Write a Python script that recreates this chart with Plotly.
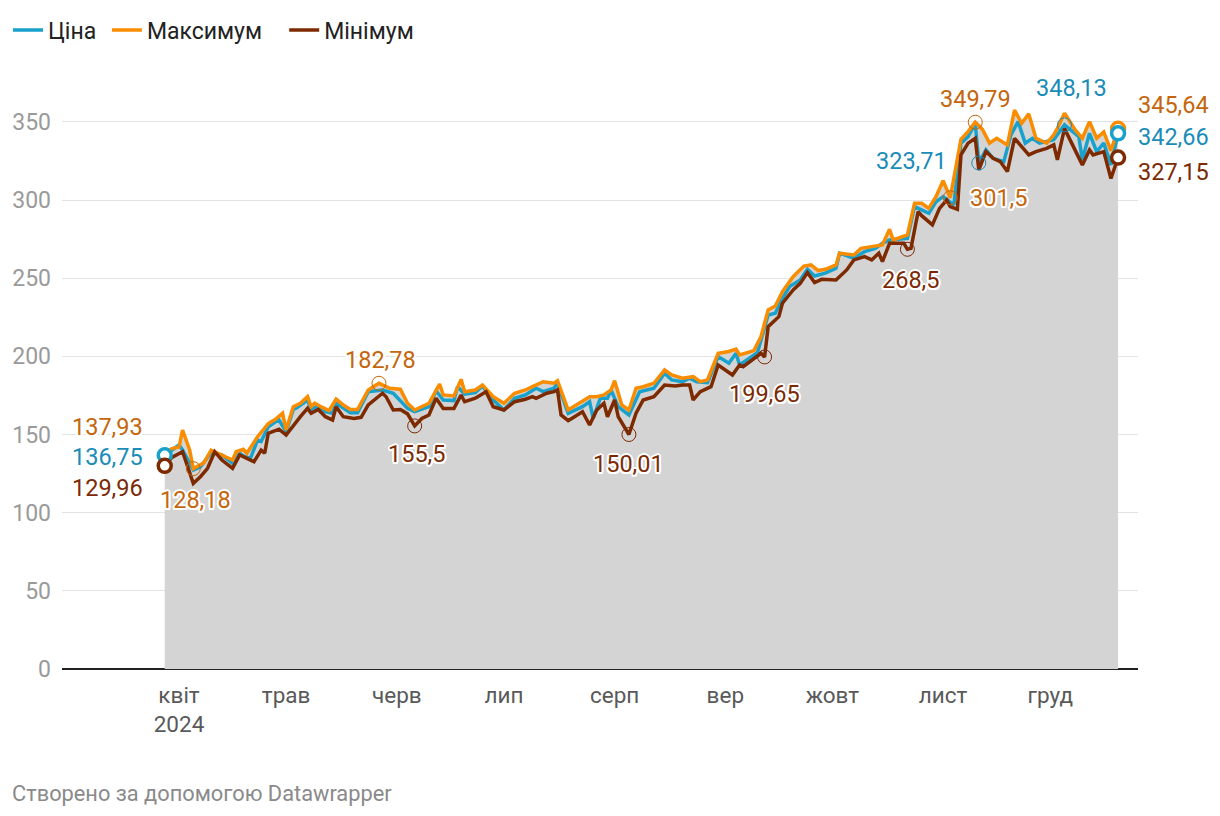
import plotly.graph_objects as go

# ---------------- data ----------------
max_dates = ["2024-03-28","2024-03-30","2024-04-01","2024-04-02","2024-04-04","2024-04-05","2024-04-08","2024-04-10","2024-04-16","2024-04-17","2024-04-19","2024-04-20","2024-04-23","2024-04-26","2024-04-28","2024-04-30","2024-05-01","2024-05-03","2024-05-05","2024-05-07","2024-05-08","2024-05-09","2024-05-11","2024-05-13","2024-05-15","2024-05-17","2024-05-19","2024-05-21","2024-05-24","2024-05-27","2024-05-30","2024-06-02","2024-06-04","2024-06-06","2024-06-10","2024-06-11","2024-06-13","2024-06-14","2024-06-17","2024-06-19","2024-06-20","2024-06-23","2024-06-25","2024-06-28","2024-07-01","2024-07-04","2024-07-07","2024-07-09","2024-07-12","2024-07-15","2024-07-16","2024-07-19","2024-07-22","2024-07-25","2024-07-27","2024-07-29","2024-07-31","2024-08-01","2024-08-03","2024-08-05","2024-08-07","2024-08-09","2024-08-12","2024-08-15","2024-08-17","2024-08-20","2024-08-23","2024-08-25","2024-08-27","2024-08-30","2024-09-02","2024-09-04","2024-09-05","2024-09-09","2024-09-11","2024-09-13","2024-09-15","2024-09-17","2024-09-20","2024-09-23","2024-09-25","2024-09-27","2024-09-29","2024-10-02","2024-10-03","2024-10-07","2024-10-09","2024-10-11","2024-10-15","2024-10-17","2024-10-18","2024-10-22","2024-10-24","2024-10-26","2024-10-28","2024-10-30","2024-11-01","2024-11-03","2024-11-06","2024-11-08","2024-11-10","2024-11-12","2024-11-14","2024-11-16","2024-11-19","2024-11-21","2024-11-23","2024-11-25","2024-11-27","2024-11-30","2024-12-02","2024-12-03","2024-12-05","2024-12-08","2024-12-10","2024-12-12","2024-12-14","2024-12-16","2024-12-18","2024-12-20"]
max_vals = [137.93,141,142,152.9,140,128.18,132,140,133.7,139,140.5,138,148.6,157,159.7,163.6,153,167.8,170,174.2,167.8,170,167.5,165.3,172.6,168.9,166,166,178.5,182.78,179.6,179,170,165.7,170,174.2,182.3,175.3,174.7,185.3,177.4,178.5,181.7,174.2,170,176.4,178.5,180.6,183.8,182.8,184.4,165.7,170,174.2,174.2,175.3,178.5,184.4,168.9,165.7,179.6,180.6,182.8,191.3,188.1,186,187,183.8,184.9,202,203.1,204.6,200.9,203.7,212.7,229.7,232.2,241.4,251,257.8,258.5,254.9,255.7,258.5,266,264.9,269.1,269.7,271.3,281.3,274.5,277.7,297.9,297.9,294.7,302.2,312.4,301.5,338.9,343.8,349.79,345.3,336.4,339.5,335.3,357.6,349.1,355.1,339.5,336.4,341.7,345.9,355.5,344.9,339.5,350.2,339.5,343.6,331.6,345.64]

price_dates = ["2024-03-28","2024-03-30","2024-04-01","2024-04-02","2024-04-05","2024-04-07","2024-04-10","2024-04-13","2024-04-16","2024-04-18","2024-04-19","2024-04-21","2024-04-23","2024-04-24","2024-04-26","2024-04-28","2024-04-29","2024-05-01","2024-05-03","2024-05-04","2024-05-07","2024-05-08","2024-05-10","2024-05-12","2024-05-14","2024-05-15","2024-05-17","2024-05-19","2024-05-21","2024-05-24","2024-05-28","2024-05-31","2024-06-04","2024-06-06","2024-06-10","2024-06-12","2024-06-14","2024-06-17","2024-06-18","2024-06-20","2024-06-23","2024-06-25","2024-06-28","2024-07-01","2024-07-04","2024-07-07","2024-07-10","2024-07-12","2024-07-15","2024-07-16","2024-07-19","2024-07-23","2024-07-25","2024-07-26","2024-07-28","2024-07-30","2024-07-31","2024-08-02","2024-08-05","2024-08-08","2024-08-12","2024-08-15","2024-08-17","2024-08-20","2024-08-22","2024-08-24","2024-08-27","2024-08-30","2024-09-02","2024-09-04","2024-09-05","2024-09-10","2024-09-13","2024-09-15","2024-09-17","2024-09-19","2024-09-22","2024-09-24","2024-09-26","2024-09-29","2024-10-02","2024-10-03","2024-10-07","2024-10-10","2024-10-13","2024-10-15","2024-10-17","2024-10-22","2024-10-24","2024-10-26","2024-10-28","2024-10-30","2024-11-01","2024-11-04","2024-11-06","2024-11-08","2024-11-10","2024-11-11","2024-11-13","2024-11-15","2024-11-18","2024-11-20","2024-11-22","2024-11-24","2024-11-26","2024-11-28","2024-12-02","2024-12-05","2024-12-09","2024-12-10","2024-12-12","2024-12-14","2024-12-16","2024-12-18","2024-12-20"]
price_vals = [136.75,140.3,143.3,140.1,127.3,129.4,138.4,136.9,131.6,138,136.3,134.8,146.5,145.5,155,158.2,159.3,151.8,166,167.2,172.1,166,168.3,164.6,163.6,170,166.7,164,164,177.4,178.5,176.4,166.7,164.6,167.8,178,172.1,171.7,180.6,175.9,176.8,181,172.1,165.7,173.2,175.3,179.6,177.4,179.6,182.8,163.6,167.8,171,160.3,173.2,173.2,178.5,167.8,162.5,177.4,179.6,189.2,184.9,183.8,186,183.8,183.2,199.9,195.6,202,194.5,202.4,226.5,227.6,237.2,244.7,248.9,255.7,251.4,253.2,256.4,266,262.8,267,269.1,272.3,274.5,275.5,295.8,293.7,291.5,298.9,302.2,296.9,336.4,340.6,349.1,323.71,332.1,326.7,324.6,341.7,350.2,336.4,339.5,336.4,338.6,348.13,340.6,325.7,342.7,331,336.4,322.5,342.66]

min_dates = ["2024-03-28","2024-03-30","2024-04-02","2024-04-03","2024-04-05","2024-04-07","2024-04-09","2024-04-11","2024-04-13","2024-04-16","2024-04-18","2024-04-20","2024-04-22","2024-04-24","2024-04-25","2024-04-26","2024-04-29","2024-05-01","2024-05-03","2024-05-05","2024-05-07","2024-05-08","2024-05-10","2024-05-12","2024-05-14","2024-05-15","2024-05-17","2024-05-20","2024-05-22","2024-05-24","2024-05-28","2024-05-29","2024-05-31","2024-06-02","2024-06-04","2024-06-06","2024-06-08","2024-06-10","2024-06-12","2024-06-14","2024-06-17","2024-06-19","2024-06-20","2024-06-23","2024-06-26","2024-06-28","2024-07-01","2024-07-04","2024-07-07","2024-07-09","2024-07-10","2024-07-13","2024-07-15","2024-07-16","2024-07-17","2024-07-19","2024-07-20","2024-07-23","2024-07-25","2024-07-27","2024-07-29","2024-07-30","2024-08-01","2024-08-02","2024-08-05","2024-08-07","2024-08-09","2024-08-12","2024-08-15","2024-08-18","2024-08-20","2024-08-22","2024-08-23","2024-08-25","2024-08-28","2024-08-30","2024-09-03","2024-09-05","2024-09-06","2024-09-11","2024-09-12","2024-09-13","2024-09-16","2024-09-17","2024-09-20","2024-09-22","2024-09-24","2024-09-26","2024-09-28","2024-09-30","2024-10-02","2024-10-05","2024-10-07","2024-10-10","2024-10-12","2024-10-14","2024-10-15","2024-10-17","2024-10-21","2024-10-22","2024-10-23","2024-10-25","2024-10-26","2024-10-29","2024-10-31","2024-11-02","2024-11-03","2024-11-05","2024-11-06","2024-11-08","2024-11-10","2024-11-11","2024-11-13","2024-11-15","2024-11-17","2024-11-19","2024-11-21","2024-11-23","2024-11-25","2024-11-27","2024-11-30","2024-12-02","2024-12-03","2024-12-05","2024-12-07","2024-12-10","2024-12-12","2024-12-13","2024-12-16","2024-12-18","2024-12-20"]
min_vals = [129.96,135.4,139,132.6,118.8,123,128.4,139,133.7,128.4,136.9,134.8,132.6,140,138,150.8,153.4,149.7,156,161.4,166.7,163.6,166,161.4,159.3,167.8,161.4,160.3,161,168.9,176.4,174.2,165.7,166,163.2,155.5,160.3,162.5,173.2,166.7,166.7,175.3,171,173.2,177.4,167.8,165.7,171,172.6,174.2,173.2,176.4,177.4,178.5,162.5,158.9,160.3,164.6,156.1,165.7,170,161.4,172.1,161.4,150.01,163.6,172.1,174.2,181.7,181,181.7,181.7,172.1,177.4,180.6,194.5,188.1,194.5,193.4,202,199.65,219,225.4,234,242.5,246.7,253.6,247.2,249.3,249.3,248.9,255.3,261.7,263.8,261.7,266,260.6,272.3,272.3,268.5,269.1,292.6,290,284.1,294.7,300,295.8,294.1,328.9,336.4,339.5,319.3,331,326.7,324.6,318.2,339.5,334.2,328.9,331,333.1,335.3,325.7,345.7,336.4,322.5,332.1,328.9,331,313.8,327.15]

# highlighted points
max_mark_dates = ["2024-04-05", "2024-05-27", "2024-11-03", "2024-11-10"]
max_mark_vals = [128.18, 182.78, 301.5, 349.79]
min_mark_dates = ["2024-06-06", "2024-08-05", "2024-09-12", "2024-10-22"]
min_mark_vals = [155.5, 150.01, 199.65, 268.5]
price_mark_dates = ["2024-11-11", "2024-12-05"]
price_mark_vals = [323.71, 348.13]

month_ticks = ["2024-04-01","2024-05-01","2024-06-01","2024-07-01","2024-08-01","2024-09-01","2024-10-01","2024-11-01","2024-12-01"]
month_labels = ["квіт<br>2024","трав","черв","лип","серп","вер","жовт","лист","груд"]
y_ticks = [0, 50, 100, 150, 200, 250, 300, 350]

names = {"price": "Ціна", "max": "Максимум", "min": "Мінімум"}

# ---------------- style ----------------
C_PRICE, C_MAX, C_MIN = "#18a1cd", "#fa8c00", "#7d2a00"
T_PRICE, T_MAX, T_MIN = "#1a8cb8", "#c4660c", "#7b2a05"
FONT = "Roboto"
W, H = 1204, 800   # page body adds an 8px margin
NB = "\u00a0"      # spacing between legend entries

fig = go.Figure()

# grey area under the lines
fig.add_trace(go.Scatter(x=max_dates, y=max_vals, mode="lines", fill="tozeroy",
                         fillcolor="#d4d4d4", line=dict(width=0, color="#d4d4d4"),
                         showlegend=False, hoverinfo="skip"))

fig.add_trace(go.Scatter(x=price_dates, y=price_vals, mode="lines", name=names["price"] + NB,
                         line=dict(color=C_PRICE, width=3.5), hoverinfo="skip"))
fig.add_trace(go.Scatter(x=max_dates, y=max_vals, mode="lines", name=names["max"] + NB * 3,
                         line=dict(color=C_MAX, width=3.5), hoverinfo="skip"))
fig.add_trace(go.Scatter(x=min_dates, y=min_vals, mode="lines", name=names["min"],
                         line=dict(color=C_MIN, width=3.5), hoverinfo="skip"))

# thin highlight rings
for d, v, c in [(max_mark_dates, max_mark_vals, T_MAX),
                (min_mark_dates, min_mark_vals, T_MIN),
                (price_mark_dates, price_mark_vals, T_PRICE)]:
    fig.add_trace(go.Scatter(x=d, y=v, mode="markers", showlegend=False, hoverinfo="skip",
                             marker=dict(symbol="circle-open", size=14, color=c,
                                         line=dict(width=1, color=c)), cliponaxis=False))

# end-point circles
ends = [
    (price_dates[0], price_vals[0], C_PRICE),
    (min_dates[0], min_vals[0], C_MIN),
    (max_dates[-1], max_vals[-1], C_MAX),
    (price_dates[-1], price_vals[-1], C_PRICE),
    (min_dates[-1], min_vals[-1], C_MIN),
]
for d, v, c in ends:
    fig.add_trace(go.Scatter(x=[d], y=[v], mode="markers", showlegend=False, hoverinfo="skip",
                             cliponaxis=False,
                             marker=dict(symbol="circle", size=13, color="white",
                                         line=dict(width=3.5, color=c))))

halo = ("white 2px 0px 0px, white -2px 0px 0px, white 0px 2px 0px, white 0px -2px 0px, "
        "white 1.5px 1.5px 0px, white -1.5px -1.5px 0px, white 1.5px -1.5px 0px, white -1.5px 1.5px 0px")

def fmt(v):
    s = f"{v:.2f}".rstrip("0").rstrip(".")
    return s.replace(".", ",")

def label(d, v, color, xanchor="center", xshift=0, yshift=0):
    fig.add_annotation(x=d, y=v, text=fmt(v), showarrow=False, xanchor=xanchor,
                       yanchor="middle", xshift=xshift, yshift=yshift,
                       font=dict(family=FONT, size=23.5, color=color, shadow=halo))

# start labels
label(max_dates[0], max_vals[0], T_MAX, "right", -20, 26)
label(price_dates[0], price_vals[0], T_PRICE, "right", -20, -2)
label(min_dates[0], min_vals[0], T_MIN, "right", -20, -22)
# end labels
label(max_dates[-1], max_vals[-1], T_MAX, "left", 18, 24)
label(price_dates[-1], price_vals[-1], T_PRICE, "left", 18, -4)
label(min_dates[-1], min_vals[-1], T_MIN, "left", 18, -14)
# highlighted
mx_off = [("center", 2, -31), ("center", 2, 23), ("left", 18, 0), ("center", 0, 23)]
for d, v, o in zip(max_mark_dates, max_mark_vals, mx_off):
    label(d, v, T_MAX, *o)
mn_off = [("center", 2, -28), ("center", 0, -29), ("center", 0, -37), ("center", 3, -31)]
for d, v, o in zip(min_mark_dates, min_mark_vals, mn_off):
    label(d, v, T_MIN, *o)
pr_off = [("right", -30, 2), ("center", 7, 37)]
for d, v, o in zip(price_mark_dates, price_mark_vals, pr_off):
    label(d, v, T_PRICE, *o)

fig.add_annotation(text="Створено за допомогою Datawrapper", xref="paper", yref="paper",
                   x=-0.0483, y=-0.2088, xanchor="left", yanchor="middle", showarrow=False,
                   font=dict(family=FONT, size=21.8, color="#8a8a8a"))

fig.update_layout(
    width=W, height=H,
    margin=dict(l=54, r=74, t=67, b=139, autoexpand=False),
    paper_bgcolor="white", plot_bgcolor="white",
    font=dict(family=FONT),
    showlegend=True,
    legend=dict(orientation="h", xref="container", yref="container",
                x=0.0, y=0.9725, xanchor="left", yanchor="middle",
                font=dict(size=23, color="#222222"), itemwidth=30,
                bgcolor="rgba(0,0,0,0)", traceorder="normal"),
    xaxis=dict(type="date", range=["2024-02-28 05:30", "2024-12-25 14:00"],
               tickvals=month_ticks, ticktext=month_labels, showgrid=False,
               ticks="outside", ticklen=6, tickcolor="rgba(0,0,0,0)", automargin=False,
               tickfont=dict(size=22.5, color="#595959"), showline=False, zeroline=False),
    yaxis=dict(range=[0, 380], tickvals=y_ticks, showgrid=True, gridcolor="#e3e3e3",
               gridwidth=1, zeroline=True, zerolinecolor="#222222", zerolinewidth=2,
               tickfont=dict(size=23, color="#9a9a9a"), ticks="", showline=False,
               ticklabelstandoff=10, automargin=False),
)

fig.write_html("out.html")
